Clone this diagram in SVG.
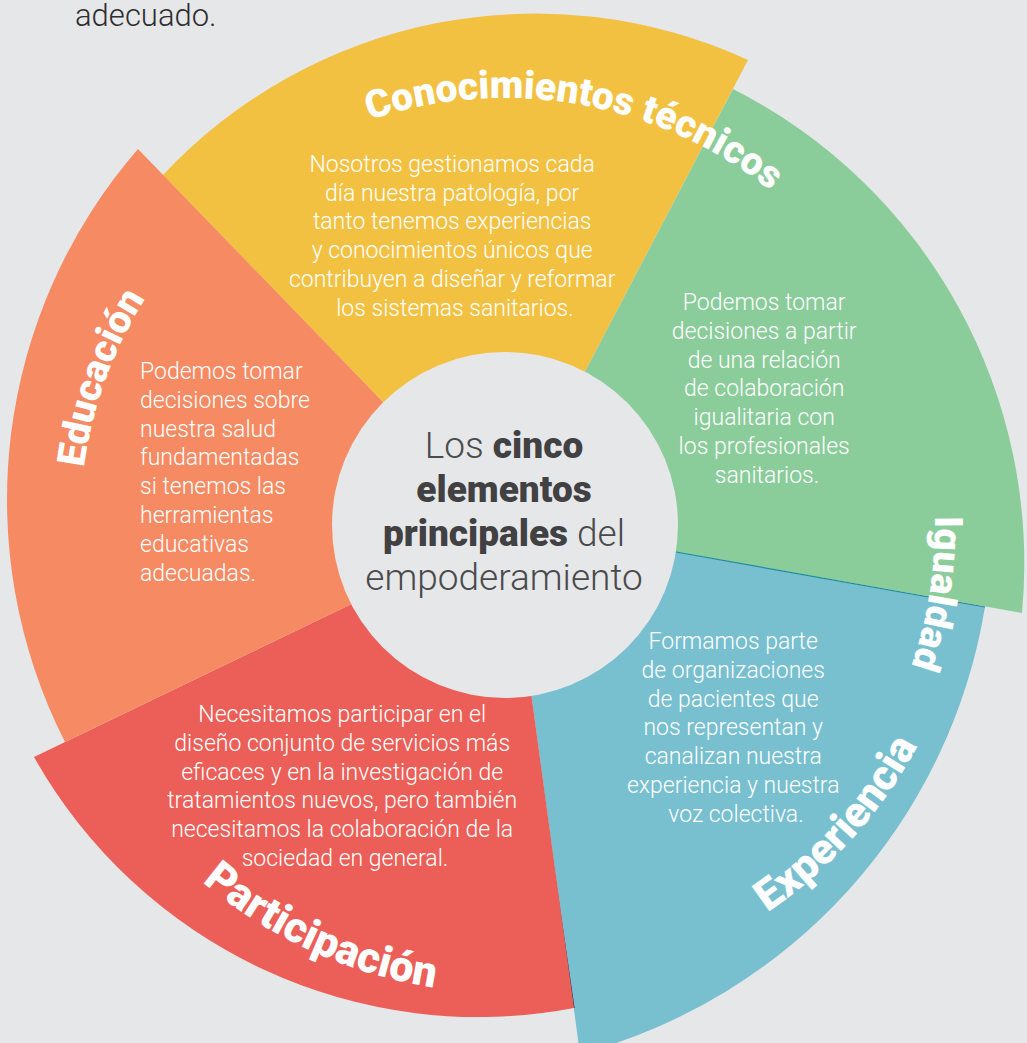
<svg xmlns="http://www.w3.org/2000/svg" width="1027" height="1043" viewBox="0 0 1027 1043">
  <style>
    .bg { fill: #e6e7e8; }
    .body { font-family: Roboto, "Liberation Sans", sans-serif; font-weight: 300; font-size: 23px; fill: #ffffff; }
    .mid { text-anchor: middle; }
    .title { font-family: Roboto, "Liberation Sans", sans-serif; font-weight: 900; fill: #ffffff; }
    .cw { font-size: 39px; }
    .ccw { font-size: 43px; }
    .hub-text { font-family: Roboto, "Liberation Sans", sans-serif; font-size: 37px; fill: #4a4a4c; text-anchor: middle; }
    .light { font-weight: 300; }
    .heavy { font-weight: 900; fill: #414042; }
  </style>
  <defs>
    <!-- baseline arcs for the curved titles, all centred on the hub (505,525) -->
    <path id="arcConocimientos" d="M177.9,250.5 A427,427 0 0 1 906.2,379.0"/>
    <path id="arcIgualdad" d="M775.6,190.8 A430,430 0 0 1 659.1,926.4"/>
    <path id="arcExperiencia" d="M407.7,982.8 A468,468 0 0 0 950.1,380.4"/>
    <path id="arcParticipacion" d="M39.2,569.9 A468,468 0 0 0 776.8,906.0"/>
    <path id="arcEducacion" d="M179.4,798.2 A425,425 0 0 1 431.2,106.5"/>
  </defs>

  <rect class="bg" x="0" y="0" width="1027" height="1043"/>

  <!-- text left over from the preceding paragraph -->
  <text x="75" y="26" font-family="Roboto, 'Liberation Sans', sans-serif" font-weight="300" font-size="31" fill="#2e2d2f">adecuado.</text>

  <!-- wedge: Conocimientos técnicos -->
  <g id="wedge-conocimientos">
    <path d="M440,461 L163,175 A510,510 0 0 1 748,60 L555,429 L505,525 Z" fill="#f3c142"/>
    <text class="body mid">
      <tspan x="455" y="172">Nosotros gestionamos cada</tspan>
      <tspan x="455" y="200.7">día nuestra patología, por</tspan>
      <tspan x="455" y="229.4">tanto tenemos experiencias</tspan>
      <tspan x="455" y="258.1">y conocimientos únicos que</tspan>
      <tspan x="455" y="286.8">contribuyen a diseñar y reformar</tspan>
      <tspan x="455" y="315.5">los sistemas sanitarios.</tspan>
    </text>
  </g>

  <!-- wedge: Igualdad -->
  <g id="wedge-igualdad">
    <path d="M555,429 L733,89 A532,532 0 0 1 1022,613 L580,535 L505,525 Z" fill="#8bcc9b"/>
    <text class="body mid">
      <tspan x="767" y="310">Podemos tomar</tspan>
      <tspan x="767" y="338.8">decisiones a partir</tspan>
      <tspan x="767" y="367.6">de una relación</tspan>
      <tspan x="767" y="396.4">de colaboración</tspan>
      <tspan x="767" y="425.2">igualitaria con</tspan>
      <tspan x="767" y="454">los profesionales</tspan>
      <tspan x="767" y="482.8">sanitarios.</tspan>
    </text>
  </g>

  <!-- wedge: Experiencia -->
  <g id="wedge-experiencia">
    <path d="M580,535 L985,607 A556,556 0 0 1 580,1054 L513,560 L505,525 Z" fill="#78bfd0"/>
    <line x1="676" y1="552" x2="985" y2="607" stroke="#1b8c9c" stroke-width="1.2"/>
    <line x1="529" y1="697" x2="574" y2="1008" stroke="#2c2a5a" stroke-width="1.2"/>
    <text class="body mid">
      <tspan x="736" y="649">Formamos parte</tspan>
      <tspan x="736" y="677.8">de organizaciones</tspan>
      <tspan x="736" y="706.6">de pacientes que</tspan>
      <tspan x="736" y="735.4">nos representan y</tspan>
      <tspan x="736" y="764.2">canalizan nuestra</tspan>
      <tspan x="736" y="793">experiencia y nuestra</tspan>
      <tspan x="736" y="821.8">voz colectiva.</tspan>
    </text>
  </g>

  <!-- wedge: Participación -->
  <g id="wedge-participacion">
    <path d="M513,560 L574,1008 A510,510 0 0 1 34,757 L420,571 L505,525 Z" fill="#eb5f58"/>
    <text class="body mid">
      <tspan x="345" y="722">Necesitamos participar en el</tspan>
      <tspan x="345" y="750.8">diseño conjunto de servicios más</tspan>
      <tspan x="345" y="779.6">eficaces y en la investigación de</tspan>
      <tspan x="345" y="808.4">tratamientos nuevos, pero también</tspan>
      <tspan x="345" y="837.2">necesitamos la colaboración de la</tspan>
      <tspan x="345" y="866">sociedad en general.</tspan>
    </text>
  </g>

  <!-- wedge: Educación -->
  <g id="wedge-educacion">
    <path d="M420,571 L65,742 A535,535 0 0 1 138,149 L440,461 L505,525 Z" fill="#f58a63"/>
    <text class="body">
      <tspan x="140" y="379">Podemos tomar</tspan>
      <tspan x="140" y="407.8">decisiones sobre</tspan>
      <tspan x="140" y="436.6">nuestra salud</tspan>
      <tspan x="140" y="465.4">fundamentadas</tspan>
      <tspan x="140" y="494.2">si tenemos las</tspan>
      <tspan x="140" y="523">herramientas</tspan>
      <tspan x="140" y="551.8">educativas</tspan>
      <tspan x="140" y="580.6">adecuadas.</tspan>
    </text>
  </g>

  <!-- curved wedge titles -->
  <g id="titles">
    <text class="title cw"><textPath href="#arcConocimientos" startOffset="50%" text-anchor="middle">Conocimientos técnicos</textPath></text>
    <text class="title cw"><textPath href="#arcIgualdad" startOffset="50%" text-anchor="middle">Igualdad</textPath></text>
    <text class="title ccw"><textPath href="#arcExperiencia" startOffset="50%" text-anchor="middle">Experiencia</textPath></text>
    <text class="title ccw"><textPath href="#arcParticipacion" startOffset="50%" text-anchor="middle">Participación</textPath></text>
    <text class="title cw"><textPath href="#arcEducacion" startOffset="50%" text-anchor="middle">Educación</textPath></text>
  </g>

  <!-- central hub -->
  <g id="hub">
    <circle cx="505" cy="525" r="173" fill="#e6e7e8"/>
    <text class="hub-text" x="504" y="458"><tspan class="light">Los </tspan><tspan class="heavy">cinco</tspan></text>
    <text class="hub-text heavy" x="504" y="502">elementos</text>
    <text class="hub-text" x="504" y="546"><tspan class="heavy">principales</tspan><tspan class="light"> del</tspan></text>
    <text class="hub-text light" x="504" y="590">empoderamiento</text>
  </g>
</svg>
